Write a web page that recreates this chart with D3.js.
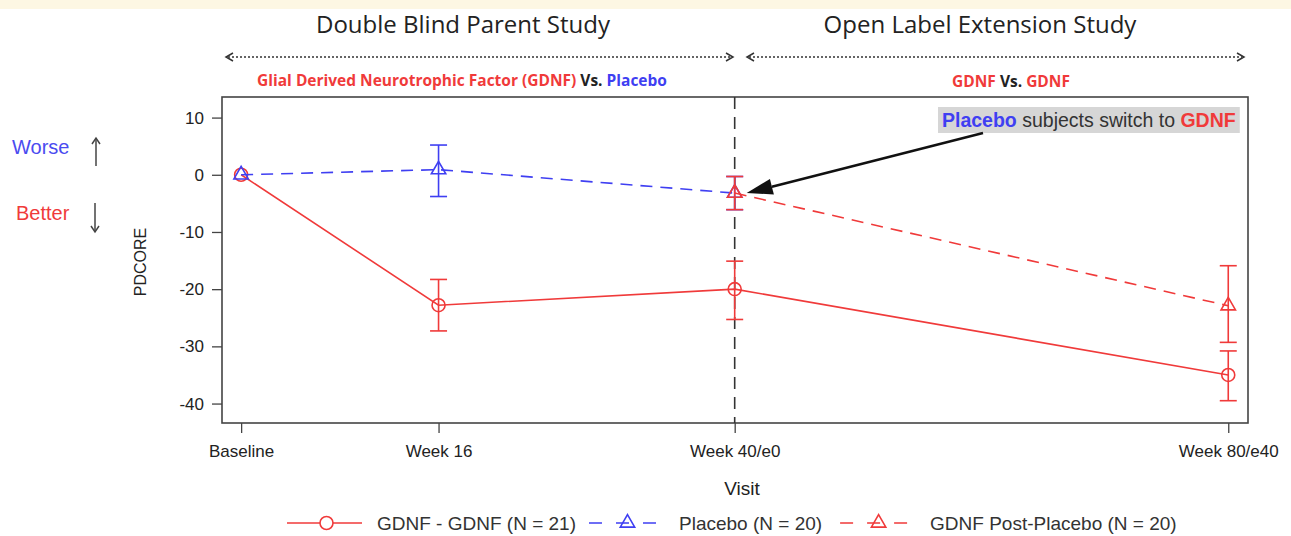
<!DOCTYPE html>
<html>
<head>
<meta charset="utf-8">
<title>PDCORE by Visit</title>
<style>
  body { margin: 0; background: #fff; }
  text { font-family: "Liberation Sans", Arial, sans-serif; }
  .head { font-family: "Open Sans", sans-serif; fill: #222; font-size: 24px; }
  .sub { font-family: "Open Sans", sans-serif; font-weight: bold; font-size: 15.5px; }
  .tick text { font-size: 17px; fill: #222; }
  .tick line { stroke: #444; stroke-width: 1.3; }
</style>
</head>
<body>
<script src="https://cdn.jsdelivr.net/npm/d3@7/dist/d3.min.js"></script>
<script>
// visits and their week position
const visits = ["Baseline", "Week 16", "Week 40/e0", "Week 80/e40"];
const weeks = [0, 16, 40, 80];
const yTicks = [10, 0, -10, -20, -30, -40];

// GDNF - GDNF (all four visits)
const gdnfMean  = [0, -22.8, -20.0, -35.0];
const gdnfLower = [null, -27.3, -25.3, -39.5];
const gdnfUpper = [null, -18.3, -15.1, -30.8];

// Placebo (parent study)
const placeboWeeks = [0, 16, 40];
const placeboMean  = [0, 0.9, -3.2];
const placeboLower = [null, -3.8, -6.1];
const placeboUpper = [null, 5.2, -0.3];

// GDNF post-placebo (extension)
const postWeeks = [40, 80];
const postMean  = [-3.2, -22.9];
const postLower = [-6.1, -29.3];
const postUpper = [-0.3, -15.9];

const legendLabels = ["GDNF - GDNF (N = 21)", "Placebo (N = 20)", "GDNF Post-Placebo (N = 20)"];

const RED = "#f03a3a", BLUE = "#3f3ff2", INK = "#333";

const W = 1291, H = 536;
const plot = { left: 222, right: 1248, top: 97, bottom: 423 };

const svg = d3.select("body").append("svg")
  .attr("width", W)
  .attr("height", H);

// light banner strip at the very top
svg.append("rect").attr("x", 0).attr("y", 0).attr("width", W).attr("height", 9)
  .attr("fill", "#fdf7e3");

const x = d3.scaleLinear().domain([-1.55, 81.6]).range([plot.left, plot.right]);
const y = d3.scaleLinear().domain([-43.4, 13.6]).range([plot.bottom, plot.top]);

// build point records
const rows = (ws, m, lo, hi) => ws.map((w, i) => ({ w: w, m: m[i], lo: lo[i], hi: hi[i] }));
const gdnf = rows(weeks, gdnfMean, gdnfLower, gdnfUpper);
const placebo = rows(placeboWeeks, placeboMean, placeboLower, placeboUpper);
const post = rows(postWeeks, postMean, postLower, postUpper);

// ---- headers over the two study periods
svg.append("text").attr("class", "head")
  .attr("x", 463).attr("y", 33).attr("text-anchor", "middle")
  .text("Double Blind Parent Study");
svg.append("text").attr("class", "head")
  .attr("x", 980).attr("y", 33).attr("text-anchor", "middle")
  .text("Open Label Extension Study");

function spanArrow(x0, x1, yy) {
  const g = svg.append("g").attr("stroke", "#333").attr("fill", "none").attr("stroke-width", 1.5);
  g.append("line").attr("x1", x0 + 2).attr("x2", x1 - 2).attr("y1", yy).attr("y2", yy)
    .attr("stroke-dasharray", "2,2");
  g.append("path").attr("d", `M${x0 + 7},${yy - 4} L${x0},${yy} L${x0 + 7},${yy + 4}`);
  g.append("path").attr("d", `M${x1 - 7},${yy - 4} L${x1},${yy} L${x1 - 7},${yy + 4}`);
}
spanArrow(226, 733, 57);
spanArrow(747, 1244, 57);

const sub1 = svg.append("text").attr("class", "sub")
  .attr("x", 462).attr("y", 86).attr("text-anchor", "middle");
sub1.append("tspan").attr("fill", RED).text("Glial Derived Neurotrophic Factor (GDNF) ");
sub1.append("tspan").attr("fill", "#222").text("Vs. ");
sub1.append("tspan").attr("fill", BLUE).text("Placebo");

const sub2 = svg.append("text").attr("class", "sub")
  .attr("x", 1011).attr("y", 87).attr("text-anchor", "middle");
sub2.append("tspan").attr("fill", RED).text("GDNF ");
sub2.append("tspan").attr("fill", "#222").text("Vs. ");
sub2.append("tspan").attr("fill", RED).text("GDNF");

// ---- axes
const yAxis = svg.append("g")
  .attr("transform", `translate(${plot.left},0)`)
  .call(d3.axisLeft(y).tickValues(yTicks).tickSize(10).tickPadding(8)
    .tickFormat(d => String(d)));
yAxis.select(".domain").remove();

const xAxis = svg.append("g")
  .attr("transform", `translate(0,${plot.bottom})`)
  .call(d3.axisBottom(x).tickValues(weeks).tickSize(10).tickPadding(12)
    .tickFormat((d, i) => visits[i]));
xAxis.select(".domain").remove();

// frame
svg.append("rect")
  .attr("x", plot.left).attr("y", plot.top)
  .attr("width", plot.right - plot.left).attr("height", plot.bottom - plot.top)
  .attr("fill", "none").attr("stroke", "#444").attr("stroke-width", 1.6);

svg.append("text")
  .attr("transform", `translate(146,${(plot.top + plot.bottom) / 2 + 2}) rotate(-90)`)
  .attr("text-anchor", "middle").attr("font-size", 16).attr("fill", "#222")
  .text("PDCORE");

svg.append("text")
  .attr("x", (plot.left + plot.right) / 2 + 7).attr("y", 495)
  .attr("text-anchor", "middle").attr("font-size", 19).attr("fill", "#222")
  .text("Visit");

// worse / better hints
svg.append("text").attr("x", 12).attr("y", 154).attr("font-size", 20).attr("fill", "#4b4bf0").text("Worse");
svg.append("text").attr("x", 16).attr("y", 220).attr("font-size", 20).attr("fill", RED).text("Better");
function smallArrow(xx, y0, y1) {
  const g = svg.append("g").attr("stroke", "#444").attr("stroke-width", 1.5).attr("fill", "none");
  g.append("line").attr("x1", xx).attr("x2", xx).attr("y1", y0).attr("y2", y1);
  const d = y1 < y0 ? 1 : -1;
  g.append("path").attr("d", `M${xx - 4},${y1 + d * 6} L${xx},${y1} L${xx + 4},${y1 + d * 6}`);
}
smallArrow(96, 166, 138);
smallArrow(95, 203, 232);

// ---- dashed separator at week 40
svg.append("line")
  .attr("x1", x(40)).attr("x2", x(40)).attr("y1", plot.top).attr("y2", plot.bottom)
  .attr("stroke", "#333").attr("stroke-width", 1.6).attr("stroke-dasharray", "12,8");

// ---- series
const line = d3.line().x(d => x(d.w)).y(d => y(d.m));
const triangle = d3.symbol(d3.symbolTriangle, 90);

function errorBars(data, color) {
  const g = svg.append("g").attr("stroke", color).attr("stroke-width", 1.6);
  data.filter(d => d.lo != null).forEach(d => {
    g.append("line").attr("x1", x(d.w)).attr("x2", x(d.w)).attr("y1", y(d.lo)).attr("y2", y(d.hi));
    g.append("line").attr("x1", x(d.w) - 8.5).attr("x2", x(d.w) + 8.5).attr("y1", y(d.lo)).attr("y2", y(d.lo));
    g.append("line").attr("x1", x(d.w) - 8.5).attr("x2", x(d.w) + 8.5).attr("y1", y(d.hi)).attr("y2", y(d.hi));
  });
}

// GDNF - GDNF
svg.append("path").datum(gdnf).attr("d", line)
  .attr("fill", "none").attr("stroke", RED).attr("stroke-width", 1.6);
errorBars(gdnf, RED);
svg.append("g").selectAll("circle").data(gdnf).join("circle")
  .attr("cx", d => x(d.w)).attr("cy", d => y(d.m)).attr("r", 6.5)
  .attr("fill", "none").attr("stroke", RED).attr("stroke-width", 1.6);

// Placebo
svg.append("path").datum(placebo).attr("d", line)
  .attr("fill", "none").attr("stroke", BLUE).attr("stroke-width", 1.6)
  .attr("stroke-dasharray", "12,8");
errorBars(placebo, BLUE);
svg.append("g").selectAll("path").data(placebo).join("path")
  .attr("d", triangle).attr("transform", d => `translate(${x(d.w)},${y(d.m)})`)
  .attr("fill", "none").attr("stroke", BLUE).attr("stroke-width", 1.6);

// GDNF post-placebo
svg.append("path").datum(post).attr("d", line)
  .attr("fill", "none").attr("stroke", RED).attr("stroke-width", 1.6)
  .attr("stroke-dasharray", "12,8");
errorBars(post, RED);
svg.append("g").selectAll("path").data(post).join("path")
  .attr("d", triangle).attr("transform", d => `translate(${x(d.w)},${y(d.m)})`)
  .attr("fill", "none").attr("stroke", RED).attr("stroke-width", 1.6);

// ---- annotation: placebo subjects switch
const note = svg.append("g");
const noteBox = note.append("rect").attr("fill", "#d6d6d6");
const noteText = note.append("text").attr("x", 942).attr("y", 127).attr("font-size", 19.5);
noteText.append("tspan").attr("fill", BLUE).attr("font-weight", "bold").text("Placebo");
noteText.append("tspan").attr("fill", INK).text(" subjects switch to ");
noteText.append("tspan").attr("fill", RED).attr("font-weight", "bold").text("GDNF");
const nb = noteText.node().getBBox();
noteBox.attr("x", nb.x - 4).attr("y", 107).attr("width", nb.width + 8).attr("height", 26);

const tipX = x(40) + 12, tipY = y(-3.2);
const fromX = 983, fromY = 133;
const ang = Math.atan2(fromY - tipY, fromX - tipX);
const headLen = 26, headW = 8;
const bx = tipX + Math.cos(ang) * headLen, by = tipY + Math.sin(ang) * headLen;
svg.append("line").attr("x1", fromX).attr("y1", fromY).attr("x2", bx).attr("y2", by)
  .attr("stroke", "#111").attr("stroke-width", 2.5);
svg.append("path")
  .attr("d", `M${tipX},${tipY} L${bx - Math.sin(ang) * headW},${by + Math.cos(ang) * headW} L${bx + Math.sin(ang) * headW},${by - Math.cos(ang) * headW} Z`)
  .attr("fill", "#111");

// ---- legend
const legend = svg.append("g").attr("transform", "translate(0,523)");
let lx = 287;
legendLabels.forEach((lab, i) => {
  const color = i === 1 ? BLUE : RED;
  const len = i === 0 ? 75 : 67;
  legend.append("line").attr("x1", lx).attr("x2", lx + len).attr("y1", 0).attr("y2", 0)
    .attr("stroke", color).attr("stroke-width", 1.6)
    .attr("stroke-dasharray", i === 0 ? null : "13,14");
  if (i === 0) {
    legend.append("circle").attr("cx", lx + len / 2 + 2).attr("cy", 0).attr("r", 6.5)
      .attr("fill", "#fff").attr("stroke", color).attr("stroke-width", 1.6);
  } else {
    legend.append("path").attr("d", triangle).attr("transform", `translate(${lx + len / 2 + 5},0)`)
      .attr("fill", "none").attr("stroke", color).attr("stroke-width", 1.6);
  }
  const t = legend.append("text").attr("x", lx + len + (i === 0 ? 15 : 23)).attr("y", 7)
    .attr("font-size", 19).attr("fill", INK).text(lab);
  lx = lx + len + (i === 0 ? 15 : 23) + t.node().getComputedTextLength() + (i === 0 ? 13 : 18);
});
</script>
</body>
</html>
